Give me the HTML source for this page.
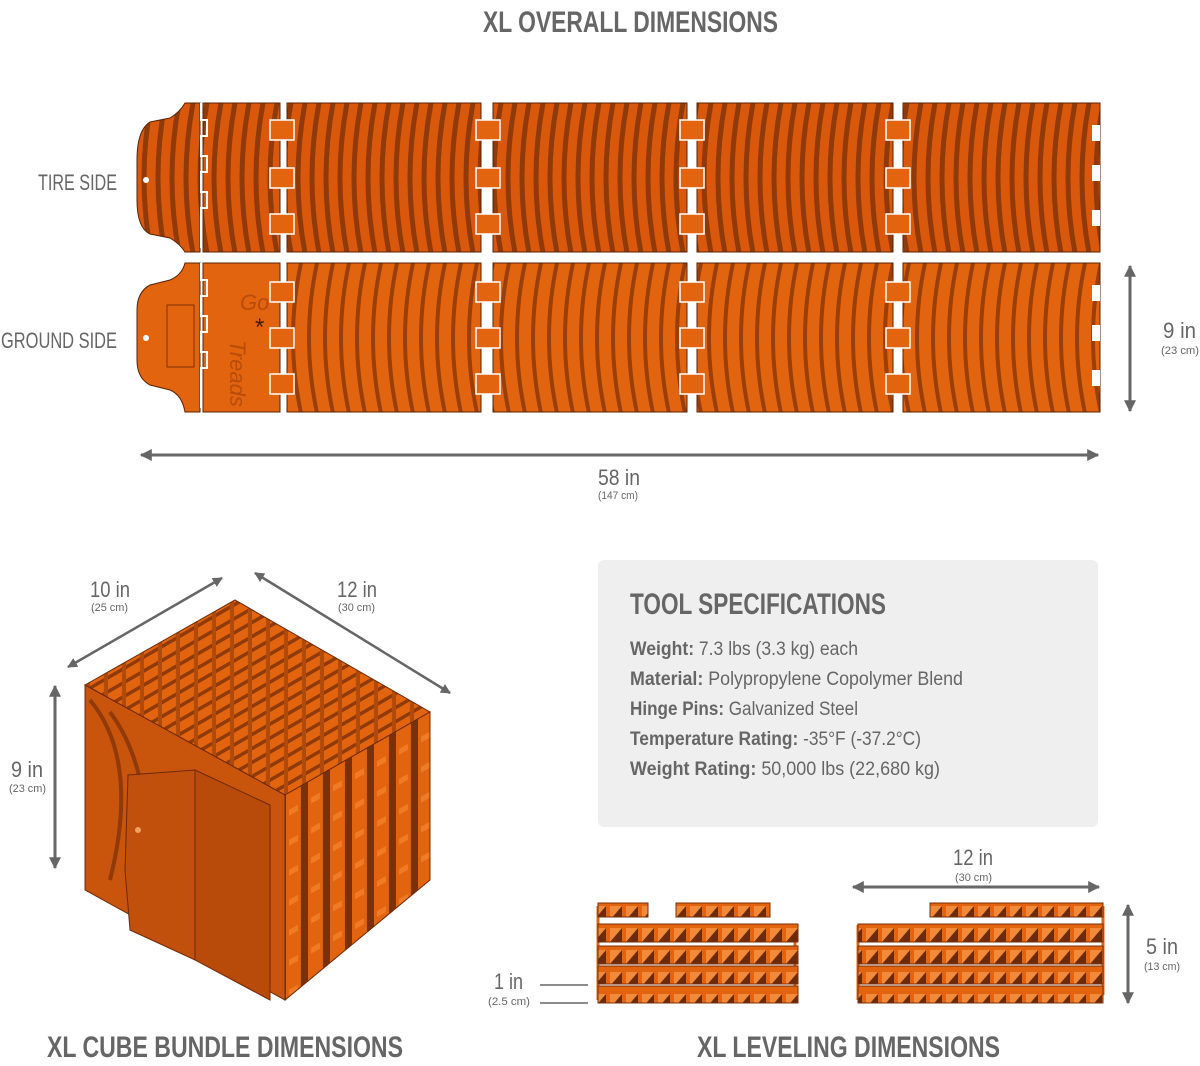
<!DOCTYPE html>
<html><head><meta charset="utf-8"><style>
html,body{margin:0;padding:0;background:#fff}
svg{display:block}
text{font-family:"Liberation Sans",sans-serif;fill:#666}
.t{font-weight:bold;font-size:30px}
.l{font-size:22px}
.s{font-size:11px}
.d{font-size:22px}
</style></head><body>
<svg width="1200" height="1066" viewBox="0 0 1200 1066" xmlns="http://www.w3.org/2000/svg">
<defs>
<pattern id="pa" patternUnits="userSpaceOnUse" x="0" y="103" width="14" height="150">
<rect width="14" height="150" fill="#d9580c"/>
<path d="M11,0 Q-3,75 11,150" stroke="#8f3a08" stroke-width="5" fill="none"/>
</pattern>
<pattern id="pb" patternUnits="userSpaceOnUse" x="0" y="263" width="16" height="150">
<rect width="16" height="150" fill="#e2640f"/>
<path d="M13,0 Q-3,75 13,150" stroke="#9a3f0a" stroke-width="4" fill="none"/>
</pattern>
<pattern id="pt" patternUnits="userSpaceOnUse" width="18" height="14" patternTransform="skewY(-30)">
<rect width="18" height="14" fill="#e2640f"/>
<rect x="0" y="10" width="18" height="4" fill="#8f3a08"/>
<rect x="14" y="0" width="4" height="14" fill="#b04a0a"/>
</pattern>
<pattern id="pr" patternUnits="userSpaceOnUse" width="22" height="30" patternTransform="skewY(-29)">
<rect width="22" height="30" fill="#e2640f"/>
<rect x="15" y="0" width="7" height="30" fill="#7a3008"/>
<rect x="3" y="10" width="9" height="6" fill="#f07a25"/>
</pattern>
<pattern id="pl" patternUnits="userSpaceOnUse" width="16" height="22">
<rect width="16" height="22" fill="#e2640f"/>
<path d="M2,4 L14,4 L14,18 L2,18 Z" fill="#f28a3a"/>
<path d="M2,18 L14,4 L14,18 Z" fill="#6e2a06"/>
</pattern>
<marker id="ah" viewBox="0 0 10 10" refX="9" refY="5" markerWidth="4" markerHeight="4" orient="auto-start-reverse"><path d="M0,0 L10,5 L0,10 Z" fill="#666"/></marker>
</defs>

<text class="t" x="483" y="32" textLength="295" lengthAdjust="spacingAndGlyphs">XL OVERALL DIMENSIONS</text>

<!-- tire side -->
<g stroke="#5a2204" stroke-width="1">
<path d="M200,103 L185,103 Q180,112 170,118 L150,122 Q137,130 137,160 L137,200 Q137,228 150,234 L170,238 Q180,244 185,252 L200,252 Z" fill="url(#pa)"/>
<rect x="203" y="103" width="77" height="149" fill="url(#pa)"/>
<rect x="287" y="103" width="194" height="149" fill="url(#pa)"/>
<rect x="493" y="103" width="194" height="149" fill="url(#pa)"/>
<rect x="697" y="103" width="196" height="149" fill="url(#pa)"/>
<rect x="903" y="103" width="197" height="149" fill="url(#pa)"/>
</g>
<circle cx="146" cy="180" r="3" fill="#fff"/>
<!-- ground side -->
<g stroke="#5a2204" stroke-width="1">
<path d="M200,263 L185,263 Q182,275 170,280 L150,285 Q137,292 137,310 L137,360 Q137,378 150,385 L170,390 Q182,395 185,412 L200,412 Z" fill="#e2640f"/>
<rect x="203" y="263" width="77" height="149" fill="#e2640f"/>
<rect x="287" y="263" width="194" height="149" fill="url(#pb)"/>
<rect x="493" y="263" width="194" height="149" fill="url(#pb)"/>
<rect x="697" y="263" width="196" height="149" fill="url(#pb)"/>
<rect x="903" y="263" width="197" height="149" fill="url(#pb)"/>
</g>
<circle cx="146" cy="338" r="3" fill="#fff"/>
<rect x="167" y="305" width="27" height="62" fill="none" stroke="#7a3008"/>
<text x="240" y="310" style="font-size:22px;font-style:italic;fill:#b84c0a">Go</text>
<text x="250" y="360" style="font-size:22px;font-style:italic;fill:#b84c0a" transform="rotate(90 250 340)">Treads</text>
<text x="255" y="335" style="font-size:24px;fill:#4a1a02">*</text>
<!-- hinges -->
<g fill="#e2640f" stroke="#fff" stroke-width="1.5">
<rect x="270" y="120" width="24" height="20"/><rect x="270" y="168" width="24" height="20"/><rect x="270" y="214" width="24" height="20"/>
<rect x="476" y="120" width="24" height="20"/><rect x="476" y="168" width="24" height="20"/><rect x="476" y="214" width="24" height="20"/>
<rect x="680" y="120" width="24" height="20"/><rect x="680" y="168" width="24" height="20"/><rect x="680" y="214" width="24" height="20"/>
<rect x="886" y="120" width="24" height="20"/><rect x="886" y="168" width="24" height="20"/><rect x="886" y="214" width="24" height="20"/>
<rect x="270" y="282" width="24" height="20"/><rect x="270" y="328" width="24" height="20"/><rect x="270" y="374" width="24" height="20"/>
<rect x="476" y="282" width="24" height="20"/><rect x="476" y="328" width="24" height="20"/><rect x="476" y="374" width="24" height="20"/>
<rect x="680" y="282" width="24" height="20"/><rect x="680" y="328" width="24" height="20"/><rect x="680" y="374" width="24" height="20"/>
<rect x="886" y="282" width="24" height="20"/><rect x="886" y="328" width="24" height="20"/><rect x="886" y="374" width="24" height="20"/>
</g>
<g fill="#fff"><rect x="1092" y="125" width="8" height="16"/><rect x="1092" y="165" width="8" height="16"/><rect x="1092" y="210" width="8" height="16"/>
<rect x="1092" y="285" width="8" height="16"/><rect x="1092" y="325" width="8" height="16"/><rect x="1092" y="370" width="8" height="16"/></g>
<g stroke="#fff" stroke-width="2" fill="none">
<path d="M201,103 V120 h6 v16 h-6 v20 h6 v16 h-6 v20 h6 v16 h-6 v40"/>
<path d="M201,263 V280 h6 v16 h-6 v20 h6 v16 h-6 v20 h6 v16 h-6 v40"/>
</g>

<text class="l" x="38" y="190" textLength="79" lengthAdjust="spacingAndGlyphs">TIRE SIDE</text>
<text class="l" x="1" y="348" textLength="116" lengthAdjust="spacingAndGlyphs">GROUND SIDE</text>

<line x1="1130" y1="266" x2="1130" y2="411" stroke="#666" stroke-width="3" marker-start="url(#ah)" marker-end="url(#ah)"/>
<text class="d" x="1163" y="338" textLength="33" lengthAdjust="spacingAndGlyphs">9 in</text>
<text class="s" x="1161" y="354" textLength="38" lengthAdjust="spacingAndGlyphs">(23 cm)</text>
<line x1="141" y1="455" x2="1098" y2="455" stroke="#666" stroke-width="3" marker-start="url(#ah)" marker-end="url(#ah)"/>
<text class="d" x="598" y="485" textLength="42" lengthAdjust="spacingAndGlyphs">58 in</text>
<text class="s" x="598" y="499" textLength="40" lengthAdjust="spacingAndGlyphs">(147 cm)</text>

<!-- cube -->
<polygon points="85,685 235,600 430,712 285,795" fill="url(#pt)" stroke="#6e2a06"/>
<polygon points="285,795 430,712 430,880 285,1000" fill="url(#pr)" stroke="#6e2a06"/>
<polygon points="85,685 285,795 285,1000 85,890" fill="#c9540c" stroke="#6e2a06"/>
<path d="M90,700 Q140,760 110,880" stroke="#8f3a08" stroke-width="4" fill="none"/>
<path d="M110,712 Q160,780 140,900" stroke="#8f3a08" stroke-width="4" fill="none"/>
<polygon points="195,770 270,805 270,1000 195,960" fill="#b84a0a" stroke="#6e2a06"/>
<polygon points="128,775 195,770 195,960 130,930 125,870" fill="#c0500c" stroke="#6e2a06"/>
<circle cx="138" cy="830" r="3" fill="#f0a060"/>

<line x1="68" y1="667" x2="222" y2="578" stroke="#666" stroke-width="2.5" marker-start="url(#ah)" marker-end="url(#ah)"/>
<text class="d" x="90" y="597" textLength="40" lengthAdjust="spacingAndGlyphs">10 in</text>
<text class="s" x="91" y="611" textLength="37" lengthAdjust="spacingAndGlyphs">(25 cm)</text>
<line x1="255" y1="573" x2="450" y2="693" stroke="#666" stroke-width="2.5" marker-start="url(#ah)" marker-end="url(#ah)"/>
<text class="d" x="337" y="597" textLength="40" lengthAdjust="spacingAndGlyphs">12 in</text>
<text class="s" x="338" y="611" textLength="37" lengthAdjust="spacingAndGlyphs">(30 cm)</text>
<line x1="55" y1="686" x2="55" y2="868" stroke="#666" stroke-width="3" marker-start="url(#ah)" marker-end="url(#ah)"/>
<text class="d" x="11" y="777" textLength="32" lengthAdjust="spacingAndGlyphs">9 in</text>
<text class="s" x="9" y="792" textLength="37" lengthAdjust="spacingAndGlyphs">(23 cm)</text>
<text class="t" x="47" y="1057" textLength="356" lengthAdjust="spacingAndGlyphs">XL CUBE BUNDLE DIMENSIONS</text>

<!-- spec box -->
<rect x="598" y="560" width="500" height="267" rx="6" fill="#efefef"/>
<text class="t" x="630" y="614" textLength="256" lengthAdjust="spacingAndGlyphs">TOOL SPECIFICATIONS</text>
<g style="font-size:19px">
<text x="630" y="655" textLength="228" lengthAdjust="spacingAndGlyphs"><tspan font-weight="bold">Weight:</tspan> 7.3 lbs (3.3 kg) each</text>
<text x="630" y="685" textLength="333" lengthAdjust="spacingAndGlyphs"><tspan font-weight="bold">Material:</tspan> Polypropylene Copolymer Blend</text>
<text x="630" y="715" textLength="228" lengthAdjust="spacingAndGlyphs"><tspan font-weight="bold">Hinge Pins:</tspan> Galvanized Steel</text>
<text x="630" y="745" textLength="291" lengthAdjust="spacingAndGlyphs"><tspan font-weight="bold">Temperature Rating:</tspan> -35°F (-37.2°C)</text>
<text x="630" y="775" textLength="310" lengthAdjust="spacingAndGlyphs"><tspan font-weight="bold">Weight Rating:</tspan> 50,000 lbs (22,680 kg)</text>
</g>

<!-- leveling -->
<g stroke="#e2640f" stroke-width="3" fill="none">
<path d="M598,906 V1000 M795,925 V1000 M858,925 V1000 M1103,906 V995"/>
</g>
<g stroke="#7a3008" stroke-width="1">
<rect x="598" y="903" width="50" height="14" fill="url(#pl)"/>
<rect x="676" y="903" width="94" height="14" fill="url(#pl)"/>
<rect x="598" y="924" width="200" height="18" fill="url(#pl)"/>
<rect x="598" y="946" width="200" height="18" fill="url(#pl)"/>
<rect x="598" y="966" width="200" height="18" fill="url(#pl)"/>
<rect x="598" y="986" width="200" height="17" fill="url(#pl)"/>
<rect x="930" y="903" width="173" height="14" fill="url(#pl)"/>
<rect x="858" y="924" width="245" height="18" fill="url(#pl)"/>
<rect x="858" y="946" width="245" height="18" fill="url(#pl)"/>
<rect x="858" y="966" width="245" height="18" fill="url(#pl)"/>
<rect x="858" y="986" width="245" height="17" fill="url(#pl)"/>
</g>
<line x1="853" y1="887" x2="1099" y2="887" stroke="#666" stroke-width="3" marker-start="url(#ah)" marker-end="url(#ah)"/>
<text class="d" x="953" y="865" textLength="40" lengthAdjust="spacingAndGlyphs">12 in</text>
<text class="s" x="955" y="881" textLength="37" lengthAdjust="spacingAndGlyphs">(30 cm)</text>
<line x1="1128" y1="905" x2="1128" y2="1003" stroke="#666" stroke-width="3" marker-start="url(#ah)" marker-end="url(#ah)"/>
<text class="d" x="1146" y="954" textLength="32" lengthAdjust="spacingAndGlyphs">5 in</text>
<text class="s" x="1144" y="970" textLength="36" lengthAdjust="spacingAndGlyphs">(13 cm)</text>
<text class="d" x="494" y="989" textLength="29" lengthAdjust="spacingAndGlyphs">1 in</text>
<text class="s" x="488" y="1005" textLength="42" lengthAdjust="spacingAndGlyphs">(2.5 cm)</text>
<line x1="540" y1="985" x2="588" y2="985" stroke="#666" stroke-width="1.5"/>
<line x1="540" y1="1003" x2="588" y2="1003" stroke="#666" stroke-width="1.5"/>
<text class="t" x="697" y="1057" textLength="303" lengthAdjust="spacingAndGlyphs">XL LEVELING DIMENSIONS</text>
</svg>
</body></html>
